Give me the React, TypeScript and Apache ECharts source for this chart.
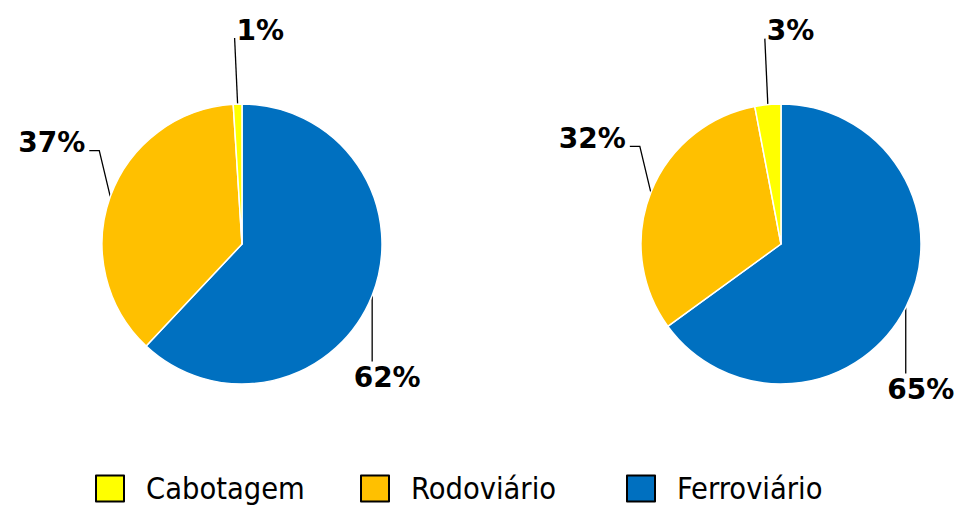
import React, { useEffect, useRef } from "react";
import * as echarts from "echarts";

const categories = ["Ferroviário", "Rodoviário", "Cabotagem"];
const legendOrder = ["Cabotagem", "Rodoviário", "Ferroviário"];
const leftValues = [62, 37, 1];
const rightValues = [65, 32, 3];
const colors: Record<string, string> = {
  "Ferroviário": "#0070C0",
  "Rodoviário": "#FFC000",
  "Cabotagem": "#FFFF00",
};

const RADIUS = 140;
const CENTERS = [
  [242, 244],
  [781, 244],
];
const LEGEND_LEFTS = [90, 355, 621];

function makeLayout(values: number[], center: number[]) {
  const total = values.reduce((a, b) => a + b, 0);
  return (params: any) => {
    const i = params.dataIndex;
    let ax: number, ay: number;
    if (params.labelLinePoints && params.labelLinePoints[0]) {
      ax = params.labelLinePoints[0][0];
      ay = params.labelLinePoints[0][1];
    } else {
      let start = 0;
      for (let k = 0; k < i; k++) start += values[k];
      const mid = ((start + values[i] / 2) / total) * Math.PI * 2;
      ax = center[0] + RADIUS * Math.sin(mid);
      ay = center[1] - RADIUS * Math.cos(mid);
    }
    if (i === 0) {
      return {
        x: ax + 15,
        y: ay + 68,
        align: "center",
        verticalAlign: "top",
        labelLinePoints: [
          [ax, ay],
          [ax, ay + 33],
          [ax, ay + 66],
        ],
      };
    }
    if (i === 1) {
      return {
        x: ax - 25,
        y: ay - 40,
        align: "right",
        verticalAlign: "bottom",
        labelLinePoints: [
          [ax, ay],
          [ax - 11, ay - 46],
          [ax - 21, ay - 46],
        ],
      };
    }
    return {
      x: ax - 1,
      y: ay - 60,
      align: "left",
      verticalAlign: "bottom",
      labelLinePoints: [
        [ax, ay],
        [ax - 1.5, ay - 33],
        [ax - 3, ay - 66],
      ],
    };
  };
}

function pieSeries(values: number[], center: number[]) {
  return {
    type: "pie",
    radius: RADIUS,
    center,
    startAngle: 90,
    clockwise: true,
    avoidLabelOverlap: false,
    data: categories.map((name, i) => ({
      name,
      value: values[i],
      itemStyle: { color: colors[name] },
    })),
    itemStyle: { borderColor: "#ffffff", borderWidth: 1.5 },
    label: {
      show: true,
      position: "outside",
      formatter: (p: any) => `${p.value}%`,
      fontFamily: "Verdana, 'DejaVu Sans', sans-serif",
      fontWeight: "bold",
      fontSize: 28,
      color: "#000000",
    },
    labelLine: {
      show: true,
      length: 10,
      length2: 10,
      lineStyle: { color: "#000000", width: 1.3 },
    },
    labelLayout: makeLayout(values, center),
    emphasis: { disabled: true },
  };
}

export default function App() {
  const ref = useRef<HTMLDivElement>(null);
  useEffect(() => {
    if (!ref.current) return;
    const chart = echarts.init(ref.current, undefined, { renderer: "svg" });
    chart.setOption({
      animation: false,
      backgroundColor: "#ffffff",
      legend: legendOrder.map((name, i) => ({
        data: [name],
        left: LEGEND_LEFTS[i],
        top: 468,
        orient: "horizontal",
        icon: "rect",
        itemWidth: 28,
        itemHeight: 26,
        itemStyle: { borderColor: "#000000", borderWidth: 2 },
        textStyle: {
          fontFamily: "'DejaVu Sans Condensed', 'Liberation Sans Narrow', 'DejaVu Sans', sans-serif",
          fontSize: 30.5,
          color: "#000000",
          padding: [0, 0, 0, 17],
        },
        selectedMode: false,
      })),
      series: [pieSeries(leftValues, CENTERS[0]), pieSeries(rightValues, CENTERS[1])],
    });
    return () => chart.dispose();
  }, []);
  return (
    <div
      ref={ref}
      style={{ position: "absolute", left: 0, top: 0, width: 959, height: 505 }}
    />
  );
}
